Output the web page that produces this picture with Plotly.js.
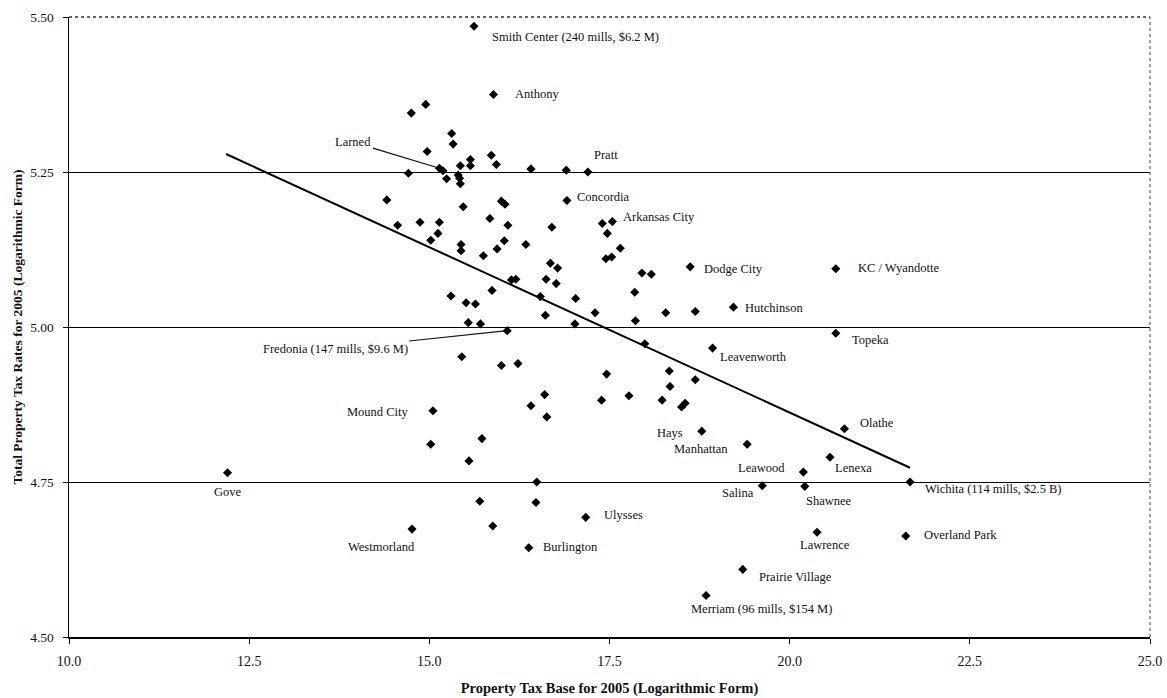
<!DOCTYPE html>
<html>
<head>
<meta charset="utf-8">
<script src="https://cdn.plot.ly/plotly-3.0.1.min.js"></script>
<style>html,body{margin:0;padding:0;background:#fff;}</style>
</head>
<body>
<div id="chart" style="width:1167px;height:698px;"></div>
<script>
// Property tax base (log) and total property tax rate (log)
const taxBase = [
  15.62, 15.89, 14.75, 14.95, 15.31, 15.33, 14.97, 15.57, 15.57, 15.43,
  15.86, 15.93, 16.41, 16.90, 17.20, 14.71, 15.14, 15.19, 15.24, 15.40,
  15.42, 15.43, 14.41, 15.47, 16.00, 16.05, 16.91, 14.56, 14.87, 15.14,
  15.12, 15.02, 15.84, 16.09, 16.70, 17.40, 17.54, 17.47, 15.44, 15.44,
  15.75, 15.94, 16.04, 16.34, 17.65, 17.45, 17.53, 16.68, 16.78, 16.14,
  16.20, 16.62, 16.76, 17.95, 18.08, 17.85, 15.87, 16.54, 17.03, 15.30,
  15.51, 15.64, 16.61, 17.30, 17.86, 15.54, 15.71, 17.02, 16.08, 17.99,
  18.62, 18.28, 18.69, 19.22, 20.64, 20.64, 18.93, 17.46, 18.33, 18.34,
  18.69, 17.39, 17.77, 18.23, 18.50, 18.55, 18.78, 19.41, 20.76, 20.56,
  20.19, 19.62, 20.21, 21.67, 20.38, 21.61, 19.35, 18.84, 15.45, 16.00,
  16.23, 16.60, 16.41, 16.63, 15.05, 15.02, 15.73, 15.55, 16.49, 15.70,
  16.48, 17.17, 15.88, 14.76, 16.38, 12.20
];
const taxRate = [
  5.485, 5.375, 5.345, 5.359, 5.312, 5.295, 5.283, 5.270, 5.260, 5.260,
  5.277, 5.262, 5.255, 5.253, 5.250, 5.248, 5.256, 5.252, 5.239, 5.245,
  5.240, 5.231, 5.205, 5.194, 5.203, 5.198, 5.204, 5.164, 5.169, 5.169,
  5.151, 5.140, 5.175, 5.164, 5.161, 5.167, 5.170, 5.151, 5.133, 5.123,
  5.115, 5.126, 5.139, 5.133, 5.127, 5.110, 5.113, 5.103, 5.095, 5.076,
  5.077, 5.077, 5.070, 5.087, 5.085, 5.056, 5.059, 5.049, 5.046, 5.050,
  5.039, 5.037, 5.019, 5.023, 5.010, 5.007, 5.005, 5.005, 4.994, 4.973,
  5.097, 5.023, 5.025, 5.032, 5.094, 4.990, 4.966, 4.924, 4.929, 4.904,
  4.915, 4.882, 4.889, 4.882, 4.871, 4.877, 4.832, 4.811, 4.836, 4.790,
  4.766, 4.744, 4.743, 4.750, 4.669, 4.663, 4.609, 4.567, 4.952, 4.938,
  4.941, 4.891, 4.873, 4.855, 4.865, 4.811, 4.820, 4.784, 4.750, 4.719,
  4.717, 4.693, 4.679, 4.674, 4.644, 4.765
];
// Trend line end points
const trendX = [12.18, 21.67];
const trendY = [5.279, 4.773];

// City labels
const labelText = [
  'Smith Center (240 mills, $6.2 M)', 'Anthony', 'Pratt', 'Concordia', 'Arkansas City',
  'Dodge City', 'KC / Wyandotte', 'Hutchinson', 'Topeka', 'Leavenworth',
  'Mound City', 'Olathe', 'Hays', 'Manhattan', 'Leawood', 'Lenexa', 'Salina',
  'Shawnee', 'Wichita (114 mills, $2.5 B)', 'Westmorland', 'Ulysses', 'Burlington',
  'Lawrence', 'Overland Park', 'Prairie Village', 'Merriam (96 mills, $154 M)'
];
const labelX = [
  15.855, 16.175, 17.27, 17.035, 17.67, 18.80, 20.93, 19.37, 20.85, 19.02,
  13.84, 20.96, 18.145, 18.38, 19.27, 20.615, 19.05, 20.21, 21.86, 13.86,
  17.41, 16.56, 20.13, 21.85, 19.56, 18.62
];
const labelY = [
  5.468, 5.376, 5.277, 5.210, 5.177, 5.094, 5.095, 5.031, 4.979, 4.952,
  4.863, 4.845, 4.829, 4.803, 4.773, 4.773, 4.732, 4.719, 4.739, 4.645,
  4.697, 4.645, 4.648, 4.665, 4.597, 4.545
];

const FONT = 'Liberation Serif, Times New Roman, serif';
const LABEL_SIZE = 12.5;

const annotations = labelText.map((t, i) => ({
  x: labelX[i], y: labelY[i], xref: 'x', yref: 'y', text: t,
  showarrow: false, xanchor: 'left', yanchor: 'middle', borderpad: 0,
  font: {family: FONT, size: LABEL_SIZE, color: '#111'}
}));
annotations.push({
  x: 12.21, y: 4.734, xref: 'x', yref: 'y', text: 'Gove', showarrow: false,
  xanchor: 'center', yanchor: 'middle', font: {family: FONT, size: LABEL_SIZE, color: '#111'}
});
annotations.push({
  x: 15.14, y: 5.256, xref: 'x', yref: 'y', text: 'Larned', showarrow: true,
  arrowhead: 0, arrowwidth: 1.2, arrowcolor: '#111', ax: -86, ay: -26, standoff: 0,
  font: {family: FONT, size: LABEL_SIZE, color: '#111'}
});
annotations.push({
  x: 16.08, y: 4.994, xref: 'x', yref: 'y', text: 'Fredonia (147 mills, $9.6 M)', showarrow: true,
  arrowhead: 0, arrowwidth: 1.2, arrowcolor: '#111', ax: -172, ay: 18, standoff: 0,
  font: {family: FONT, size: LABEL_SIZE, color: '#111'}
});

const traces = [
  {
    x: taxBase, y: taxRate, type: 'scatter', mode: 'markers',
    marker: {symbol: 'diamond', size: 7, color: '#000'},
    hoverinfo: 'x+y', showlegend: false
  },
  {
    x: trendX, y: trendY, type: 'scatter', mode: 'lines',
    line: {color: '#000', width: 2}, hoverinfo: 'skip', showlegend: false
  }
];

const layout = {
  width: 1167, height: 698,
  margin: {l: 69, r: 17, t: 17, b: 61},
  paper_bgcolor: '#fff', plot_bgcolor: '#fff',
  font: {family: FONT, color: '#111'},
  showlegend: false,
  xaxis: {
    range: [10, 25], dtick: 2.5, tick0: 10, tickformat: '.1f',
    showgrid: false, zeroline: false,
    showline: true, linecolor: '#000', linewidth: 1.5,
    ticks: 'outside', ticklen: 5, tickcolor: '#000', ticklabelstandoff: 6,
    tickfont: {family: FONT, size: 14, color: '#111'},
    title: {text: '<b>Property Tax Base for 2005 (Logarithmic Form)</b>', standoff: 14,
            font: {family: FONT, size: 14.5, color: '#111'}}
  },
  yaxis: {
    range: [4.5, 5.5], dtick: 0.25, tick0: 4.5, tickformat: '.2f',
    showgrid: true, gridcolor: '#000', gridwidth: 1, zeroline: false,
    showline: true, linecolor: '#000', linewidth: 1.5,
    ticks: 'outside', ticklen: 5, tickcolor: '#000', ticklabelstandoff: 6,
    tickfont: {family: FONT, size: 13.5, color: '#111'},
    title: {text: '<b>Total Property Tax Rates for 2005 (Logarithmic Form)</b>', standoff: 4,
            font: {family: FONT, size: 13.5, color: '#111'}}
  },
  shapes: [
    {type: 'line', xref: 'paper', yref: 'paper', x0: 1, x1: 1, y0: 0, y1: 1,
     line: {color: '#444', width: 1, dash: 'dot'}},
    {type: 'line', xref: 'paper', yref: 'paper', x0: 0, x1: 1, y0: 1, y1: 1,
     line: {color: '#333', width: 1.5, dash: 'dot'}}
  ],
  annotations: annotations
};

Plotly.newPlot('chart', traces, layout, {displayModeBar: false, staticPlot: true});
</script>
</body>
</html>
